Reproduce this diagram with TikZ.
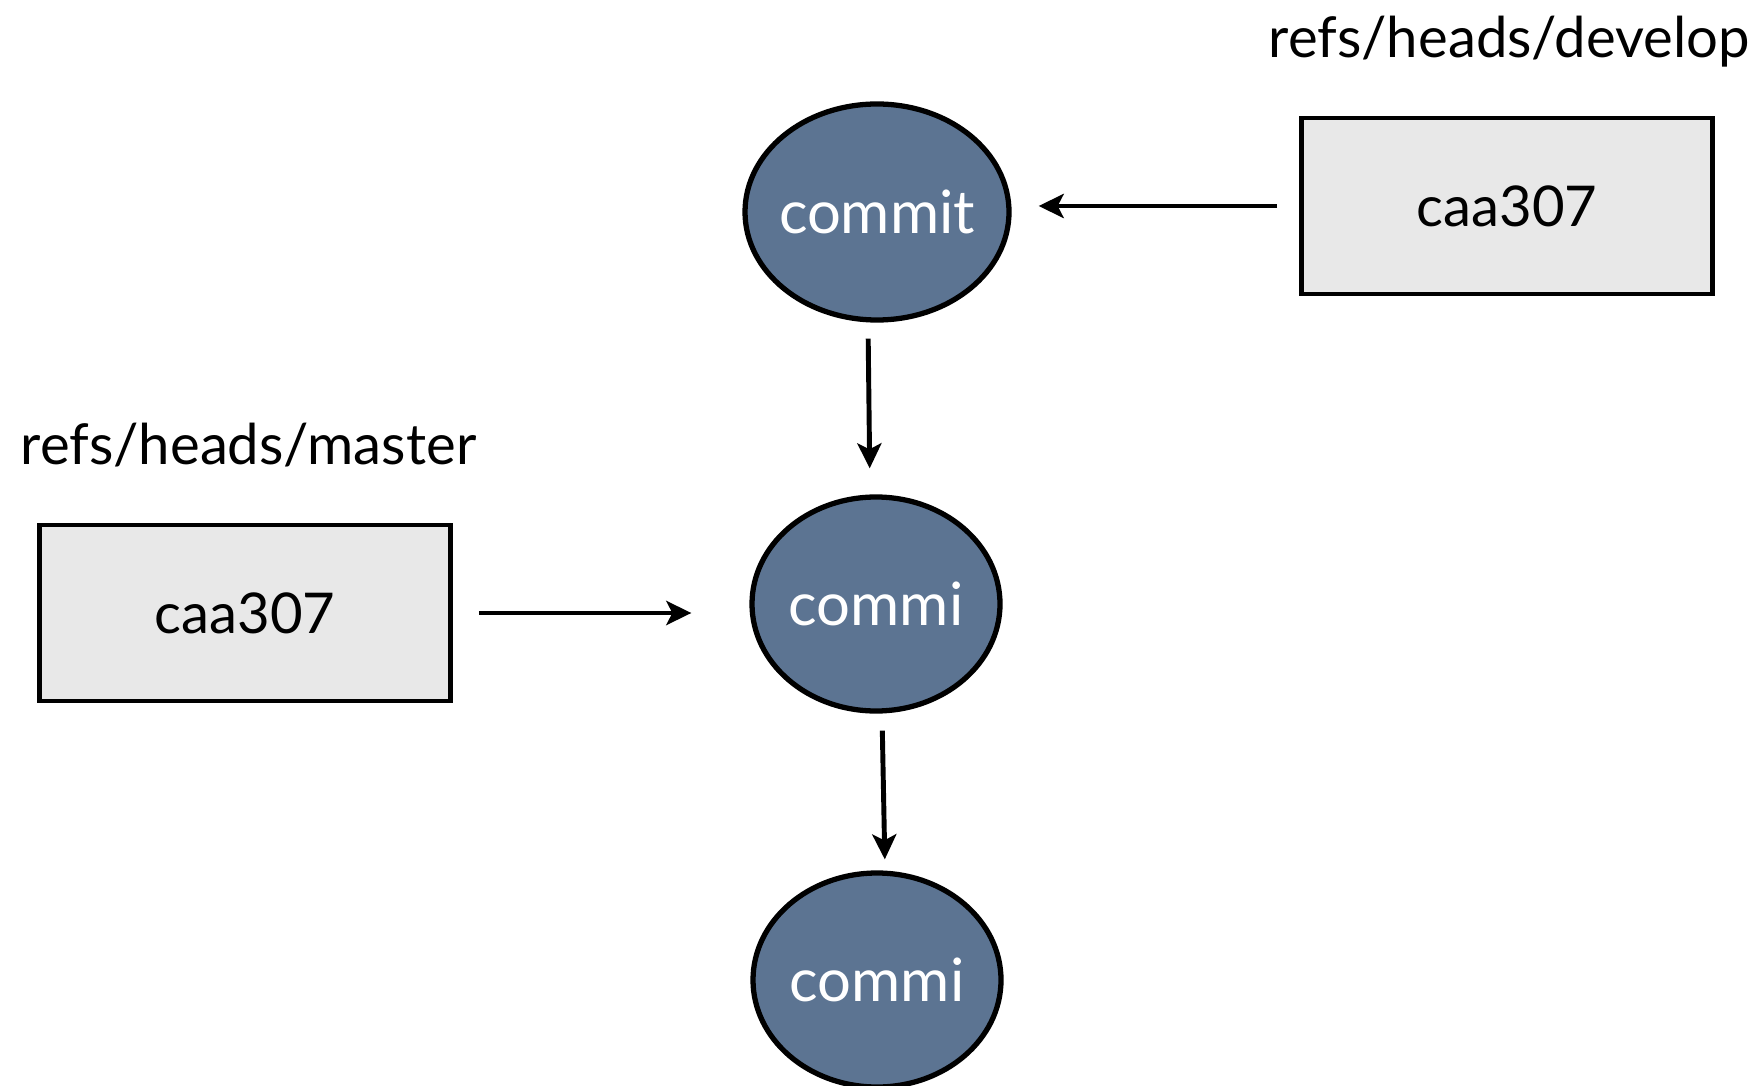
\documentclass[tikz,border=0pt]{standalone}
\usepackage{fontspec}
\setmainfont{Lato}
\usetikzlibrary{shapes.geometric, arrows.meta}
\definecolor{commitblue}{RGB}{92,116,146}
\definecolor{refgray}{RGB}{232,232,232}
\tikzset{
    box/.style={draw, line width=1.4pt, rectangle, fill=refgray, minimum height=1.76cm, minimum width=4.11cm, align=center, font=\fontsize{16}{19}\selectfont},
    obj/.style={draw, line width=1.5pt, ellipse, fill=commitblue, text=white, inner sep=0pt, minimum width=2.48cm, minimum height=2.14cm, font=\fontsize{17}{20}\selectfont},
    reflabel/.style={anchor=base west, inner sep=0pt, font=\fontsize{16}{19}\selectfont},
    arr/.style={line width=1.4pt, -{Stealth[length=2.5mm, width=2.4mm, inset=0.6mm]}}
}
\begin{document}
\begin{tikzpicture}
    \useasboundingbox (0,0) rectangle (17.53,-10.86);

    \node[reflabel] (devlabel) at (12.68,-0.58) {refs/heads/develop};
    \node[box] (devbox) at (15.07,-2.06) {caa307};
    \node[reflabel] (masterlabel) at (0.20,-4.65) {refs/heads/master};
    \node[box] (masterbox) at (2.45,-6.13) {caa307};

    \node[obj, minimum width=2.64cm, minimum height=2.16cm] (top) at (8.77,-2.12) {\makebox[0pt]{commit}};
    \node[obj] (mid) at (8.76,-6.04) {\makebox[0pt]{commi}};
    \node[obj] (bottom) at (8.77,-9.80) {\makebox[0pt]{commi}};

    \draw[arr, shorten <=2.2mm, shorten >=2.7mm] (devbox.west) -- (devbox.west -| top.east);
    \draw[arr, shorten <=1.6mm, shorten >=2.6mm] ([xshift=-0.9mm]top.south) -- ([xshift=-0.6mm]mid.north);
    \draw[arr, shorten <=2.6mm, shorten >=5.8mm] (masterbox.east) -- (masterbox.east -| mid.west);
    \draw[arr, shorten <=1.7mm, shorten >=1.1mm] ([xshift=0.6mm]mid.south) -- ([xshift=0.8mm]bottom.north);
\end{tikzpicture}
\end{document}
